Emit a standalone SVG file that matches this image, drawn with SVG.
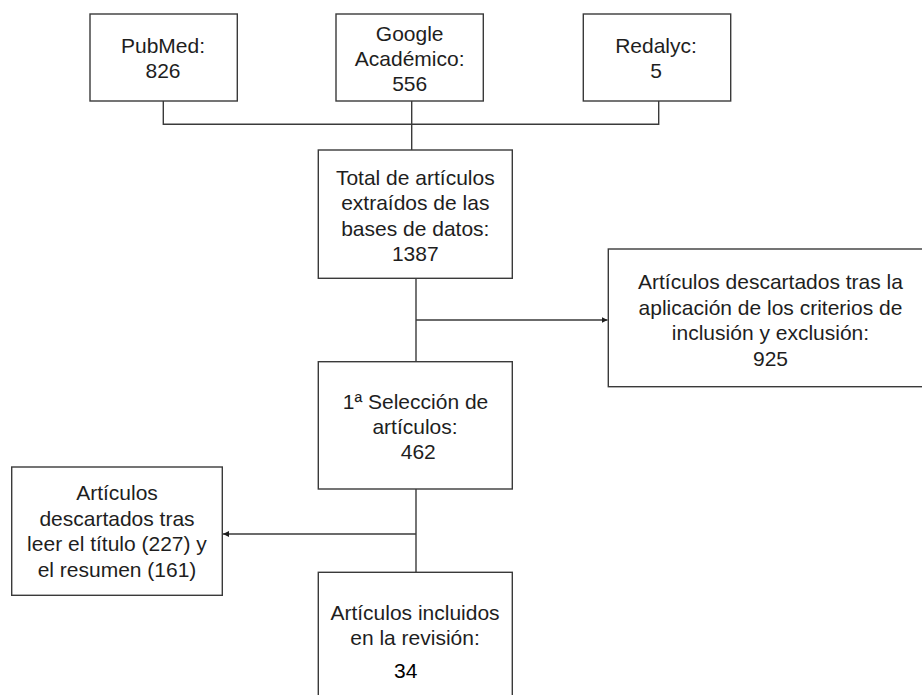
<svg xmlns="http://www.w3.org/2000/svg" width="922" height="695" viewBox="0 0 922 695">
  <defs>
    <style>
      .box { fill: #ffffff; stroke: #3a3a3a; stroke-width: 1.4; }
      .lbl { font-family: "Liberation Sans", Arial, sans-serif; font-size: 21px; fill: #1e1e1e; text-anchor: middle; }
      .wire { fill: none; stroke: #3a3a3a; stroke-width: 1.4; }
    </style>
    <marker id="arrow" viewBox="0 0 8 8" refX="8" refY="4" markerWidth="6" markerHeight="6" markerUnits="userSpaceOnUse" orient="auto">
      <path d="M0,0 L8,4 L0,8 Z" fill="#1e1e1e"/>
    </marker>
  </defs>
  <rect x="0" y="0" width="922" height="695" fill="#ffffff"/>

  <g id="connectors">
    <path class="wire" d="M163.3,101 V124.3 H658.7 V101"/>
    <path class="wire" d="M411.7,101 V150"/>
    <path class="wire" d="M416,278.3 V361.7"/>
    <path class="wire" d="M416,320 H607.5" marker-end="url(#arrow)"/>
    <path class="wire" d="M416,489 V572.3"/>
    <path class="wire" d="M416,534 H223" marker-end="url(#arrow)"/>
  </g>

  <g id="pubmed">
    <rect class="box" x="90" y="14" width="147.3" height="87"/>
    <text class="lbl" x="163" y="52.7">PubMed:</text>
    <text class="lbl" x="163" y="78.3">826</text>
  </g>

  <g id="google">
    <rect class="box" x="336" y="14" width="147.3" height="87"/>
    <text class="lbl" x="409.7" y="41">Google</text>
    <text class="lbl" x="409.7" y="65.5">Académico:</text>
    <text class="lbl" x="409.7" y="90.5">556</text>
  </g>

  <g id="redalyc">
    <rect class="box" x="583.3" y="14" width="147.4" height="87"/>
    <text class="lbl" x="656" y="52.7">Redalyc:</text>
    <text class="lbl" x="656" y="78.3">5</text>
  </g>

  <g id="total">
    <rect class="box" x="318.3" y="150" width="194" height="128.3"/>
    <text class="lbl" x="415.3" y="184.5">Total de artículos</text>
    <text class="lbl" x="415.3" y="210">extraídos de las</text>
    <text class="lbl" x="415.3" y="235.5">bases de datos:</text>
    <text class="lbl" x="415.3" y="261">1387</text>
  </g>

  <g id="descartados-criterios">
    <rect class="box" x="608.3" y="249" width="325" height="137.7"/>
    <text class="lbl" x="770.5" y="289">Artículos descartados tras la</text>
    <text class="lbl" x="770.5" y="314.5">aplicación de los criterios de</text>
    <text class="lbl" x="770.5" y="340">inclusión y exclusión:</text>
    <text class="lbl" x="770.5" y="365.5">925</text>
  </g>

  <g id="seleccion">
    <rect class="box" x="318.3" y="361.7" width="194" height="127.3"/>
    <text class="lbl" x="415.5" y="408.5">1ª Selección de</text>
    <text class="lbl" x="415" y="433.5">artículos:</text>
    <text class="lbl" x="418.3" y="458.5">462</text>
  </g>

  <g id="descartados-titulo">
    <rect class="box" x="11.7" y="467" width="210.6" height="128.3"/>
    <text class="lbl" x="117" y="500.2">Artículos</text>
    <text class="lbl" x="117" y="525.7">descartados tras</text>
    <text class="lbl" x="117" y="551.2">leer el título (227) y</text>
    <text class="lbl" x="117" y="576.7">el resumen (161)</text>
  </g>

  <g id="incluidos">
    <rect class="box" x="318.3" y="572.3" width="194" height="140"/>
    <text class="lbl" x="415" y="619.5">Artículos incluidos</text>
    <text class="lbl" x="415" y="644.5">en la revisión:</text>
    <text class="lbl" x="405.7" y="677.5" style="fill:#000000">34</text>
  </g>
</svg>
